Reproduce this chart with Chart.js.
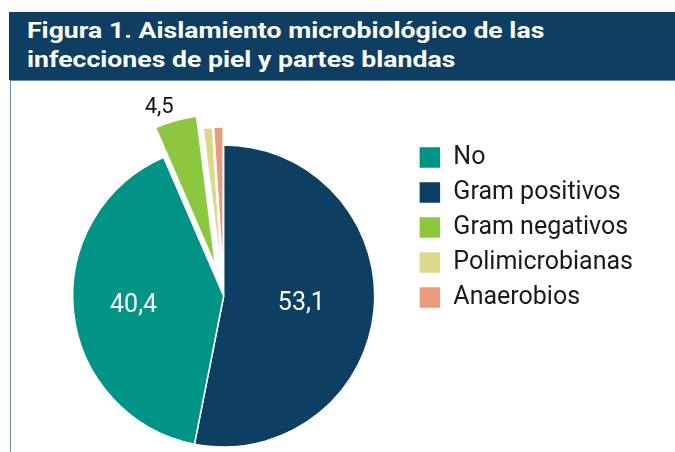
<!DOCTYPE html>
<html lang="es">
<head>
<meta charset="utf-8">
<script src="https://cdn.jsdelivr.net/npm/chart.js@4.4.1/dist/chart.umd.min.js"></script>
<style>
    html, body { margin: 0; padding: 0; background: #ffffff; overflow: hidden; }
    body { width: 675px; height: 452px; position: relative; font-family: 'Roboto', 'Liberation Sans', sans-serif; }
    .title {
        position: absolute; left: 9px; top: 12px; width: 648px; height: 64px;
        padding: 4px 0 0 18px; background: #0e3f62; color: #ffffff;
        font-weight: bold; font-size: 22px; line-height: 29px;
    }
    .title span { display: inline-block; transform: scaleX(1.21); transform-origin: left top; white-space: nowrap; }
    .panel {
        position: absolute; left: 10px; top: 80px; width: 665px; height: 372px;
        border-left: 1.5px solid #6b8aa1; border-top: 1.5px solid #6b8aa1;
        box-sizing: border-box; overflow: hidden;
    }
    .holder { position: absolute; left: 0; top: -1.5px; width: 664px; height: 380px; }
</style>
</head>
<body>
<div class="title"><span>Figura 1. Aislamiento microbiológico de las<br>infecciones de piel y partes blandas</span></div>
<div class="panel">
    <div class="holder"><canvas id="pieChart"></canvas></div>
</div>
<script>
// data, clockwise from 12 o'clock
const categories = ['Gram positivos', 'No', 'Gram negativos', 'Polimicrobianas', 'Anaerobios'];
const values = [53.1, 40.4, 4.5, 1.0, 1.0];
const shownLabels = [true, true, true, false, false];
const legendOrder = ['No', 'Gram positivos', 'Gram negativos', 'Polimicrobianas', 'Anaerobios'];

const sliceColors = ['#0d3f63', '#009487', '#8dc63f', '#ded98a', '#eb9b7d'];
// slice explosion in px (whole slice is moved out, like the original)
const explode = [0, 0, 31, 18, 18];
// label spot: fraction of radius inside the slice, or 'out'
const labelPlace = [0.517, 0.6, 'out', null, null];
const labelColors = ['#ffffff', '#ffffff', '#111111', '#111111', '#111111'];

Chart.defaults.font.family = "'Roboto', 'Liberation Sans', sans-serif";

// draw the arcs ourselves so an exploded slice keeps its apex shape
const explodedArcs = {
    id: 'explodedArcs',
    beforeDatasetDraw(chart, args) {
        const ctx = chart.ctx;
        args.meta.data.forEach((arc, i) => {
            const mid = (arc.startAngle + arc.endAngle) / 2;
            ctx.save();
            ctx.translate(Math.cos(mid) * explode[i], Math.sin(mid) * explode[i]);
            arc.draw(ctx, chart.chartArea);
            ctx.restore();
        });
        return false;
    }
};

const valueLabels = {
    id: 'valueLabels',
    afterDatasetsDraw(chart) {
        const ctx = chart.ctx;
        const meta = chart.getDatasetMeta(0);
        ctx.save();
        meta.data.forEach((arc, i) => {
            if (!shownLabels[i]) return;
            const p = arc.getProps(['x', 'y', 'startAngle', 'endAngle', 'outerRadius']);
            const mid = (p.startAngle + p.endAngle) / 2;
            const txt = values[i].toFixed(1).replace('.', ',');
            ctx.fillStyle = labelColors[i];
            if (labelPlace[i] === 'out') {
                const d = p.outerRadius + explode[i] + 7.5;
                ctx.font = "22px 'Roboto', 'Liberation Sans', sans-serif";
                ctx.textAlign = 'right';
                ctx.textBaseline = 'alphabetic';
                ctx.fillText(txt, p.x + Math.cos(mid) * d, p.y + Math.sin(mid) * d);
            } else {
                const d = p.outerRadius * labelPlace[i] + explode[i];
                ctx.font = "25px 'Roboto', 'Liberation Sans', sans-serif";
                ctx.textAlign = 'center';
                ctx.textBaseline = 'middle';
                ctx.fillText(txt, p.x + Math.cos(mid) * d, p.y + Math.sin(mid) * d);
            }
        });
        ctx.restore();
    }
};

const ctxPie = document.getElementById('pieChart').getContext('2d');
new Chart(ctxPie, {
    type: 'pie',
    data: {
        labels: categories,
        datasets: [{
            data: values,
            backgroundColor: sliceColors,
            borderColor: '#ffffff',
            borderWidth: 1.5,
            radius: 151
        }]
    },
    options: {
        responsive: true,
        maintainAspectRatio: false,
        animation: false,
        layout: { padding: { left: 27.5, right: 32, top: 55, bottom: 3 } },
        plugins: {
            legend: {
                position: 'right',
                align: 'start',
                labels: {
                    boxWidth: 22,
                    boxHeight: 22,
                    padding: 10,
                    color: '#1a1a1a',
                    font: { size: 25 },
                    sort: (a, b) => legendOrder.indexOf(a.text) - legendOrder.indexOf(b.text)
                }
            },
            tooltip: { enabled: false }
        }
    },
    plugins: [explodedArcs, valueLabels]
});
</script>
</body>
</html>
